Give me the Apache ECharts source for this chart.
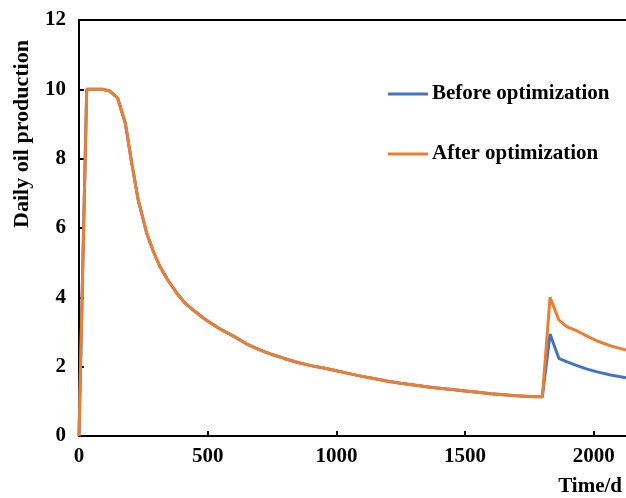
<!DOCTYPE html>
<html>
<head>
<meta charset="utf-8">
<script src="https://cdn.jsdelivr.net/npm/echarts@6/dist/echarts.min.js"></script>
<style>
html,body{margin:0;padding:0;background:#fff;}
#chart{width:626px;height:498px;}
</style>
</head>
<body>
<div id="chart"></div>
<script>
// Time (days)
const days = [0, 30, 60, 90, 120, 150, 180, 205, 230, 263, 290, 315, 345, 380, 410, 444, 480, 510, 540, 570, 600,
  650, 700, 750, 800, 850, 900, 950, 1000, 1050, 1100, 1150, 1200, 1250, 1300, 1350, 1400, 1450, 1500,
  1550, 1600, 1650, 1700, 1750, 1800, 1830, 1864, 1896, 1935, 1974, 2013, 2065, 2125];
// Daily oil production before optimization
const beforeOpt = [0, 10, 10, 10, 9.95, 9.75, 9.02, 7.87, 6.81, 5.85, 5.3, 4.88, 4.5, 4.12, 3.85, 3.63, 3.42, 3.27, 3.12, 3.0, 2.88,
  2.66, 2.49, 2.35, 2.23, 2.12, 2.03, 1.96, 1.88, 1.8, 1.72, 1.65, 1.58, 1.52, 1.47, 1.42, 1.38, 1.34, 1.30,
  1.26, 1.22, 1.19, 1.16, 1.14, 1.13, 2.94, 2.24, 2.14, 2.03, 1.93, 1.85, 1.76, 1.68];
// Daily oil production after optimization
const afterOpt = [0, 10, 10, 10, 9.95, 9.75, 9.02, 7.87, 6.81, 5.85, 5.3, 4.88, 4.5, 4.12, 3.85, 3.63, 3.42, 3.27, 3.12, 3.0, 2.88,
  2.66, 2.49, 2.35, 2.23, 2.12, 2.03, 1.96, 1.88, 1.8, 1.72, 1.65, 1.58, 1.52, 1.47, 1.42, 1.38, 1.34, 1.30,
  1.26, 1.22, 1.19, 1.16, 1.14, 1.13, 4.0, 3.35, 3.15, 3.03, 2.88, 2.74, 2.6, 2.48];
const seriesNames = ['Before optimization', 'After optimization'];
const xAxisName = 'Time/d';
const yAxisName = 'Daily oil production';

const FONT = '"Liberation Serif", "Times New Roman", serif';
const chart = echarts.init(document.getElementById('chart'));
const pairs = (ys) => days.map((d, i) => [d, ys[i]]);

chart.setOption({
  animation: false,
  backgroundColor: '#ffffff',
  grid: { left: 79, right: 0, top: 20, bottom: 62, containLabel: false },
  legend: {
    orient: 'vertical',
    left: 388,
    top: 83,
    padding: 0,
    itemGap: 38,
    itemWidth: 40,
    itemHeight: 3,
    icon: 'rect',
    textStyle: { fontFamily: FONT, fontWeight: 'bold', fontSize: 21, color: '#000', padding: [0, 0, 0, -1], lineHeight: 22 },
    data: seriesNames
  },
  xAxis: [{
    type: 'value',
    min: 0,
    max: 2125,
    interval: 500,
    axisLine: { show: true, lineStyle: { color: '#000', width: 2 } },
    axisTick: { show: true, inside: true, length: 5, lineStyle: { color: '#000', width: 2 } },
    axisLabel: { fontFamily: FONT, fontWeight: 'bold', fontSize: 21, color: '#000', margin: 10, showMaxLabel: false,
      formatter: (v) => String(v) },
    splitLine: { show: false }
  }, {
    type: 'value',
    position: 'top',
    min: 0,
    max: 2125,
    axisLine: { show: true, onZero: false, lineStyle: { color: '#000', width: 2 } },
    axisTick: { show: false },
    axisLabel: { show: false },
    splitLine: { show: false }
  }],
  yAxis: {
    type: 'value',
    min: 0,
    max: 12,
    interval: 2,
    axisLine: { show: true, lineStyle: { color: '#000', width: 2 } },
    axisTick: { show: true, inside: true, length: 5, lineStyle: { color: '#000', width: 2 } },
    axisLabel: { fontFamily: FONT, fontWeight: 'bold', fontSize: 21, color: '#000', margin: 13 },
    splitLine: { show: false }
  },
  graphic: [{
    type: 'text',
    x: 22,
    y: 134,
    rotation: Math.PI / 2,
    style: { text: yAxisName, font: 'bold 22px ' + FONT, fill: '#000', align: 'center', verticalAlign: 'middle' }
  }, {
    type: 'text',
    x: 622,
    y: 487,
    style: { text: xAxisName, font: 'bold 21px ' + FONT, fill: '#000', align: 'right', verticalAlign: 'middle' }
  }],
  series: [{
    name: seriesNames[0],
    type: 'line',
    data: pairs(beforeOpt),
    symbol: 'none',
    smooth: false,
    lineStyle: { color: '#4472C4', width: 3 },
    itemStyle: { color: '#4472C4' },
    z: 2
  }, {
    name: seriesNames[1],
    type: 'line',
    data: pairs(afterOpt),
    symbol: 'none',
    smooth: false,
    lineStyle: { color: '#ED7D31', width: 3 },
    itemStyle: { color: '#ED7D31' },
    z: 3
  }]
});
</script>
</body>
</html>
